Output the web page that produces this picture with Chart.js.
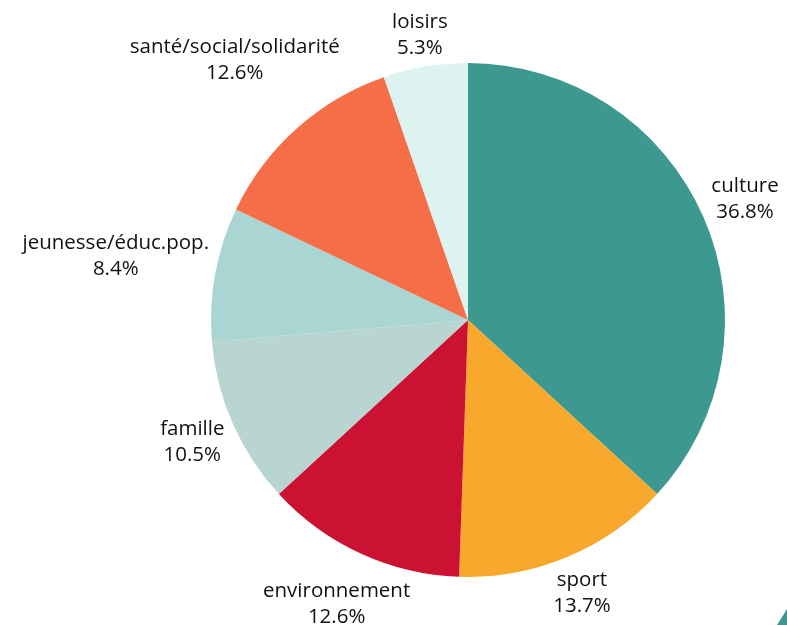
<!DOCTYPE html>
<html>
<head>
<meta charset="utf-8">
<script src="https://cdn.jsdelivr.net/npm/chart.js@4.4.0/dist/chart.umd.min.js"></script>
<style>
  html, body { margin: 0; padding: 0; background: #fff; }
  #box { width: 787px; height: 625px; position: relative; }
</style>
</head>
<body>
<div id="box"><canvas id="graphique"></canvas></div>
<script>
const categories = ['culture', 'sport', 'environnement', 'famille', 'jeunesse/éduc.pop.', 'santé/social/solidarité', 'loisirs'];
const parts = [36.8, 13.7, 12.6, 10.5, 8.4, 12.6, 5.3];
const couleurs = ['#3d998f', '#f8a82c', '#cb1233', '#b8d5d1', '#a9d6d2', '#f56e48', '#dcf3f0'];

const police = '20.5px "Open Sans", sans-serif';

// etiquettes a l'exterieur de chaque part
const etiquettes = {
  id: 'etiquettes',
  afterDatasetsDraw(chart) {
    const ctx = chart.ctx;
    const arcs = chart.getDatasetMeta(0).data;
    ctx.save();
    ctx.font = police;
    ctx.fillStyle = '#111';
    ctx.textAlign = 'center';
    ctx.textBaseline = 'middle';
    arcs.forEach(function (arc, i) {
      const lignes = [categories[i], parts[i].toFixed(1) + '%'];
      const larg = Math.max(...lignes.map(l => ctx.measureText(l).width));
      const a = larg / 2, b = 24;
      const mid = (arc.startAngle + arc.endAngle) / 2;
      const ux = Math.cos(mid), uy = Math.sin(mid);
      const dist = arc.outerRadius + 5 + Math.abs(ux) * a + Math.abs(uy) * b;
      const cx = arc.x + ux * dist;
      const cy = Math.min(arc.y + uy * dist, chart.height - 22);
      ctx.fillText(lignes[0], cx, cy - 12);
      ctx.fillText(lignes[1], cx, cy + 14);
    });
    ctx.restore();
  },
  afterDraw(chart) {
    const ctx = chart.ctx;
    const w = chart.width, h = chart.height;
    ctx.save();
    ctx.fillStyle = '#3d998f';
    ctx.beginPath();
    ctx.moveTo(w - 10, h);
    ctx.lineTo(w, h - 16);
    ctx.lineTo(w, h);
    ctx.closePath();
    ctx.fill();
    ctx.restore();
  }
};

const ctx = document.getElementById('graphique').getContext('2d');

const config = {
  type: 'pie',
  data: {
    labels: categories,
    datasets: [{
      data: parts,
      backgroundColor: couleurs,
      borderWidth: 0
    }]
  },
  options: {
    responsive: true,
    maintainAspectRatio: false,
    animation: false,
    layout: { padding: { top: 63, bottom: 48, left: 211, right: 62 } },
    plugins: {
      legend: { display: false },
      tooltip: { enabled: false }
    }
  },
  plugins: [etiquettes]
};

const monGraphique = new Chart(ctx, config);
</script>
</body>
</html>
